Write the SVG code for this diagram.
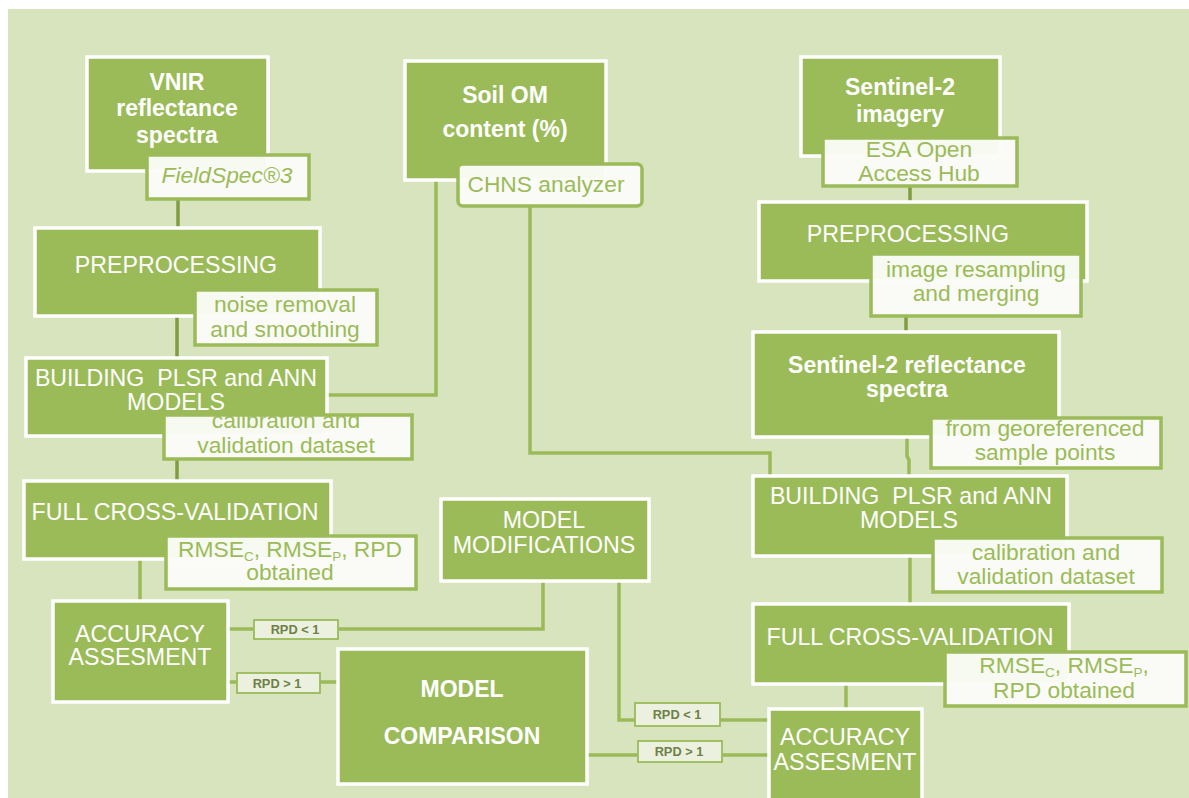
<svg xmlns="http://www.w3.org/2000/svg" width="1189" height="798" viewBox="0 0 1189 798">
<style>
.bg{fill:#d7e4bd}
.mb{fill:#9bbb59;stroke:#ffffff;stroke-width:3.5}
.sb{fill:#fbfcf8;fill-opacity:0.96;stroke:#9bbb59;stroke-width:3.5}
.lb{fill:#ebf1de;stroke:#9bbb59;stroke-width:1.8}
.wt{font-family:"Liberation Sans",Arial,sans-serif;font-size:23.2px;fill:#ffffff;text-anchor:middle}
.wb{font-family:"Liberation Sans",Arial,sans-serif;font-size:23px;font-weight:bold;fill:#ffffff;text-anchor:middle}
.gt{font-family:"Liberation Sans",Arial,sans-serif;font-size:22.8px;fill:#9bbb59;text-anchor:middle}
.lt{font-family:"Liberation Sans",Arial,sans-serif;font-size:12.8px;font-weight:bold;fill:#6e8048;text-anchor:middle}
.cn{fill:none;stroke:#9bbb59;stroke-width:3.5}
.cd{fill:none;stroke:#7f9c40;stroke-width:3.5}
</style>
<defs>
<clipPath id="clipCal"><rect x="165" y="416" width="246" height="42"/></clipPath>
<clipPath id="clipEsa"><rect x="824" y="139" width="192" height="46"/></clipPath>
</defs>
<rect x="0" y="0" width="1189" height="798" fill="#ffffff"/>
<rect class="bg" x="8" y="9" width="1181" height="789"/>

<g id="connectors">
<path class="cd" d="M178 200 V228"/>
<path class="cd" d="M177 316 V358"/>
<path class="cd" d="M177 458 V481"/>
<path class="cn" d="M140 560 V600"/>
<path class="cn" d="M436 180 V395 H328"/>
<path class="cn" d="M530 207 V453 H770 V476"/>
<path class="cd" d="M910 186 V202"/>
<path class="cd" d="M906 316 V332"/>
<path class="cn" d="M907 438 V456 L909 460 V476"/>
<path class="cn" d="M910 556 V604"/>
<path class="cn" d="M846 685 V709"/>
<path class="cn" d="M228 629 H543 V581"/>
<path class="cn" d="M228 682 H338"/>
<path class="cn" d="M619 581 V720 H768"/>
<path class="cn" d="M588 755 H768"/>
</g>

<g id="vnir">
<rect class="mb" x="87" y="57" width="181" height="114"/>
<text class="wb" x="177" y="90">VNIR</text>
<text class="wb" x="177" y="116">reflectance</text>
<text class="wb" x="177" y="143">spectra</text>
</g>
<g id="fieldspec">
<rect class="sb" x="147" y="155" width="162" height="44"/>
<text class="gt" x="227" y="183" font-style="italic">FieldSpec®3</text>
</g>

<g id="soilom">
<rect class="mb" x="405" y="61" width="201" height="119"/>
<text class="wb" x="505" y="103">Soil OM</text>
<text class="wb" x="505" y="137">content (%)</text>
</g>
<g id="chns">
<rect class="sb" x="458" y="164" width="184" height="42" rx="5"/>
<text class="gt" x="546" y="192">CHNS analyzer</text>
</g>

<g id="sentinel-imagery">
<rect class="mb" x="801" y="57" width="199" height="99"/>
<text class="wb" x="900" y="95">Sentinel-2</text>
<text class="wb" x="900" y="122">imagery</text>
</g>
<g id="esa">
<rect class="sb" x="823" y="138" width="194" height="48"/>
<g clip-path="url(#clipEsa)">
<text class="gt" x="919" y="157">ESA Open</text>
<text class="gt" x="919" y="181">Access Hub</text>
</g>
</g>

<g id="preproc-right">
<rect class="mb" x="759" y="202" width="328" height="79"/>
<text class="wt" x="908" y="242">PREPROCESSING</text>
</g>
<g id="resampling">
<rect class="sb" x="871" y="254" width="210" height="62"/>
<text class="gt" x="976" y="277">image resampling</text>
<text class="gt" x="976" y="301">and merging</text>
</g>

<g id="s2-spectra">
<rect class="mb" x="753" y="332" width="306" height="105"/>
<text class="wb" x="907" y="373">Sentinel-2 reflectance</text>
<text class="wb" x="907" y="397">spectra</text>
</g>
<g id="georef">
<rect class="sb" x="931" y="418" width="230" height="50"/>
<text class="gt" x="1045" y="436">from georeferenced</text>
<text class="gt" x="1045" y="460">sample points</text>
</g>

<g id="building-right">
<rect class="mb" x="753" y="476" width="314" height="80"/>
<text class="wt" x="911" y="504">BUILDING&#160; PLSR and ANN</text>
<text class="wt" x="909" y="528">MODELS</text>
</g>
<g id="calib-right">
<rect class="sb" x="933" y="538" width="229" height="54"/>
<text class="gt" x="1046" y="560">calibration and</text>
<text class="gt" x="1046" y="584">validation dataset</text>
</g>

<g id="fcv-right">
<rect class="mb" x="753" y="604" width="316" height="80"/>
<text class="wt" x="910" y="645">FULL CROSS-VALIDATION</text>
</g>
<g id="rmse-right">
<rect class="sb" x="945" y="652" width="241" height="54"/>
<text class="gt" x="1064" y="673">RMSE<tspan font-size="13.5" dy="4">C</tspan><tspan dy="-4">, RMSE</tspan><tspan font-size="13.5" dy="4">P</tspan><tspan dy="-4">,</tspan></text>
<text class="gt" x="1064" y="698">RPD obtained</text>
</g>

<g id="accuracy-right">
<rect class="mb" x="769" y="709" width="153" height="100"/>
<text class="wt" x="845" y="745">ACCURACY</text>
<text class="wt" x="845" y="770">ASSESMENT</text>
</g>

<g id="preproc-left">
<rect class="mb" x="35" y="228" width="285" height="88"/>
<text class="wt" x="176" y="273">PREPROCESSING</text>
</g>
<g id="noise">
<rect class="sb" x="195" y="290" width="182" height="55"/>
<text class="gt" x="285" y="312">noise removal</text>
<text class="gt" x="285" y="337">and smoothing</text>
</g>

<g id="building-left">
<rect class="mb" x="26" y="358" width="301" height="78"/>
<text class="wt" x="176" y="386">BUILDING&#160; PLSR and ANN</text>
<text class="wt" x="176" y="410">MODELS</text>
</g>
<g id="calib-left">
<rect class="sb" x="164" y="415" width="248" height="44"/>
<g clip-path="url(#clipCal)">
<text class="gt" x="286" y="428">calibration and</text>
<text class="gt" x="286" y="453">validation dataset</text>
</g>
</g>

<g id="fcv-left">
<rect class="mb" x="24" y="481" width="307" height="78"/>
<text class="wt" x="175" y="520">FULL CROSS-VALIDATION</text>
</g>
<g id="rmse-left">
<rect class="sb" x="166" y="536" width="250" height="53"/>
<text class="gt" x="290" y="557">RMSE<tspan font-size="13.5" dy="4">C</tspan><tspan dy="-4">, RMSE</tspan><tspan font-size="13.5" dy="4">P</tspan><tspan dy="-4">, RPD</tspan></text>
<text class="gt" x="290" y="580">obtained</text>
</g>

<g id="accuracy-left">
<rect class="mb" x="53" y="601" width="175" height="101"/>
<text class="wt" x="140" y="642">ACCURACY</text>
<text class="wt" x="140" y="665">ASSESMENT</text>
</g>

<g id="model-mod">
<rect class="mb" x="441" y="499" width="208" height="82"/>
<text class="wt" x="544" y="528">MODEL</text>
<text class="wt" x="544" y="553">MODIFICATIONS</text>
</g>

<g id="model-comp">
<rect class="mb" x="338" y="649" width="249" height="135"/>
<text class="wb" x="462" y="697">MODEL</text>
<text class="wb" x="462" y="744">COMPARISON</text>
</g>

<g id="rpd-labels">
<rect class="lb" x="254" y="620" width="84" height="19"/>
<text class="lt" x="295" y="634">RPD &lt; 1</text>
<rect class="lb" x="237" y="673" width="83" height="20"/>
<text class="lt" x="277" y="688">RPD &gt; 1</text>
<rect class="lb" x="635" y="703" width="85" height="23"/>
<text class="lt" x="677" y="719">RPD &lt; 1</text>
<rect class="lb" x="638" y="741" width="84" height="21"/>
<text class="lt" x="679" y="756">RPD &gt; 1</text>
</g>
</svg>
